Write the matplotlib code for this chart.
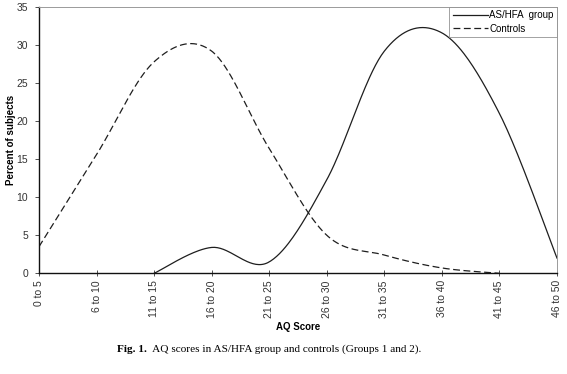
import numpy as np
import matplotlib
matplotlib.use("Agg")
import matplotlib.pyplot as plt

# data (percent of subjects per AQ score band)
categories = ["0 to 5", "6 to 10", "11 to 15", "16 to 20", "21 to 25",
              "26 to 30", "31 to 35", "36 to 40", "41 to 45", "46 to 50"]
as_hfa = [np.nan, np.nan, 0.0, 3.4, 1.5, 12.3, 29.2, 31.6, 21.0, 2.0]
controls = [3.5, 15.6, 27.8, 29.2, 16.4, 5.0, 2.4, 0.7, 0.0, np.nan]

y_ticks = [0, 5, 10, 15, 20, 25, 30, 35]

SANS = "Liberation Sans"
SERIF = "Liberation Serif"
LINE = "#1e1e1e"


def smooth(xs, ys, n=40):
    # Excel-style smoothed line: Catmull-Rom through the points as cubic Beziers
    pts = [(x, y) for x, y in zip(xs, ys) if not np.isnan(y)]
    p = np.array(pts, dtype=float)
    out = []
    for i in range(len(p) - 1):
        p0 = p[i - 1] if i > 0 else p[i]
        p1, p2 = p[i], p[i + 1]
        p3 = p[i + 2] if i + 2 < len(p) else p[i + 1]
        c1 = p1 + (p2 - p0) / 6.0
        c2 = p2 - (p3 - p1) / 6.0
        t = np.linspace(0, 1, n)[:, None]
        seg = ((1 - t) ** 3) * p1 + 3 * ((1 - t) ** 2) * t * c1 \
            + 3 * (1 - t) * t ** 2 * c2 + t ** 3 * p2
        out.append(seg if i == 0 else seg[1:])
    seg = np.vstack(out)
    return seg[:, 0], seg[:, 1]


fig = plt.figure(figsize=(5.67, 3.74), dpi=100)
ax = fig.add_axes([39 / 567, 1 - 273.3 / 374, 518 / 567, 266.3 / 374])

x = np.arange(len(categories))
sx, sy = smooth(x, as_hfa)
ax.plot(sx, sy, color=LINE, lw=0.9, label="AS/HFA  group")
cx, cy = smooth(x, controls)
ax.plot(cx, cy, color=LINE, lw=0.9, dashes=(5.5, 2.8), label="Controls")

ax.set_xlim(0, len(categories) - 1)
ax.set_ylim(0, 35)
ax.set_yticks(y_ticks)
ax.set_yticklabels([str(v) for v in y_ticks], fontsize=7.5, family=SANS)
ax.set_xticks(x)
ax.set_xticklabels(categories, rotation=90, fontsize=7.5, family=SANS,
                   va="top", ha="center")
ax.tick_params(axis="both", length=3, width=0.6, colors="#333333", pad=3)
ax.tick_params(axis="y", pad=5)
ax.tick_params(axis="x", direction="inout", length=4)

for side in ("left", "bottom"):
    ax.spines[side].set_color("#111111")
    ax.spines[side].set_linewidth(1.0)
for side in ("top", "right"):
    ax.spines[side].set_color("#9a9a9a")
    ax.spines[side].set_linewidth(0.7)

ax.set_xlabel("AQ Score", fontsize=7, family=SANS, fontweight="bold", labelpad=3)
ax.set_ylabel("Percent of subjects", fontsize=7, family=SANS,
              fontweight="bold", labelpad=0)

leg = ax.legend(loc="upper right", bbox_to_anchor=(1, 1), borderaxespad=0,
                fancybox=False, frameon=True, handlelength=3.6,
                handletextpad=0.15, borderpad=0.35, labelspacing=0.35,
                prop={"family": SANS, "size": 7})
leg.get_frame().set_edgecolor("#8a8a8a")
leg.get_frame().set_linewidth(0.7)

t1 = fig.text(117 / 567, 1 - 352 / 374, "Fig. 1.", fontsize=8.1, family=SERIF,
              fontweight="bold", va="baseline", ha="left")
ax.annotate("  AQ scores in AS/HFA group and controls (Groups 1 and 2).",
            xy=(1, 0), xycoords=t1, fontsize=8.1, family=SERIF,
            va="bottom", ha="left", annotation_clip=False)

fig.savefig("out.png", dpi=100)
